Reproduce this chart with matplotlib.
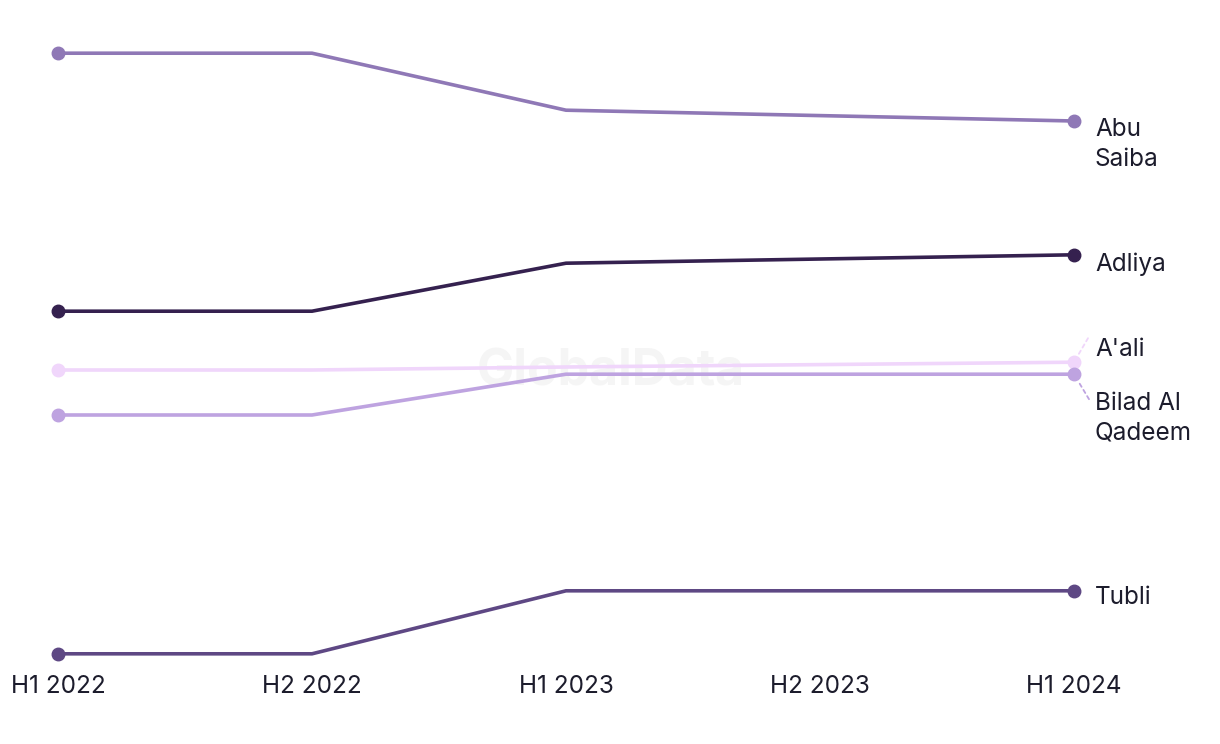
import matplotlib.pyplot as plt

plt.rcParams['font.family'] = ['Inter', 'DejaVu Sans']

# Daten (Werte aus dem Bild geschätzt, Einheit unbekannt)
periods = ["H1 2022", "H2 2022", "H1 2023", "H2 2023", "H1 2024"]
x_idx = [0, 1, 2, 4]  # kein Wert für H2 2023

areas = ["Abu\nSaiba", "Adliya", "A'ali", "Bilad Al\nQadeem", "Tubli"]
abu_saiba = [107.8, 107.8, 98.3, 96.5]
adliya = [64.8, 64.8, 72.8, 74.2]
aali = [55.0, 55.0, 55.5, 56.3]
bilad = [47.5, 47.5, 54.3, 54.3]
tubli = [7.7, 7.7, 18.2, 18.2]

series = [abu_saiba, adliya, aali, bilad, tubli]
colors = ["#8f78b6", "#35214f", "#f0d6fb", "#bea3e0", "#5e4884"]

# Versatz der ersten Labelzeile in Pixeln (nach unten positiv)
label_dy = [9, 9, -13, 29, 7]
line_gap = 30

fig = plt.figure(figsize=(12.2, 7.44), dpi=100)
ax = fig.add_axes([58 / 1220, 90 / 744, 1016 / 1220, 601 / 744])

for vals, col, name, dy in zip(series, colors, areas, label_dy):
    ax.plot(x_idx, vals, color=col, lw=2.6, marker="o", markersize=9,
            markevery=[0, len(vals) - 1], clip_on=False, zorder=3)
    for i, part in enumerate(name.split("\n")):
        ax.annotate(part, (x_idx[-1], vals[-1]),
                    xytext=(21, -(dy + i * line_gap)), textcoords="offset pixels",
                    va="center", ha="left", fontsize=17.5, color="#1c1c2c")

# gestrichelte Verbindungen für A'ali und Bilad Al Qadeem
ax.annotate("", (x_idx[-1], aali[-1]), xytext=(14, 24), textcoords="offset pixels",
            arrowprops=dict(arrowstyle="-", ls=(0, (2, 2)), color=colors[2], lw=1.3,
                            shrinkA=0, shrinkB=6))
ax.annotate("", (x_idx[-1], bilad[-1]), xytext=(15, -25), textcoords="offset pixels",
            arrowprops=dict(arrowstyle="-", ls=(0, (2, 2)), color=colors[3], lw=1.3,
                            shrinkA=0, shrinkB=6))

# Wasserzeichen (hinter den Linien)
ax.text(611 / 1220, 1 - 372 / 744, "GlobalData", transform=fig.transFigure,
        ha="center", va="center", fontsize=36, fontweight="bold",
        color="#f5f5f5", zorder=0)

ax.set_xlim(0, 4)
ax.set_ylim(7.667, 107.833)
ax.set_xticks(range(len(periods)))
ax.set_xticklabels(periods, fontsize=17.5, color="#1c1c2c")
ax.tick_params(axis="x", length=0, pad=15)
ax.set_yticks([])
for s in ax.spines.values():
    s.set_visible(False)
ax.patch.set_alpha(0)

fig.savefig("out.png", dpi=100)
